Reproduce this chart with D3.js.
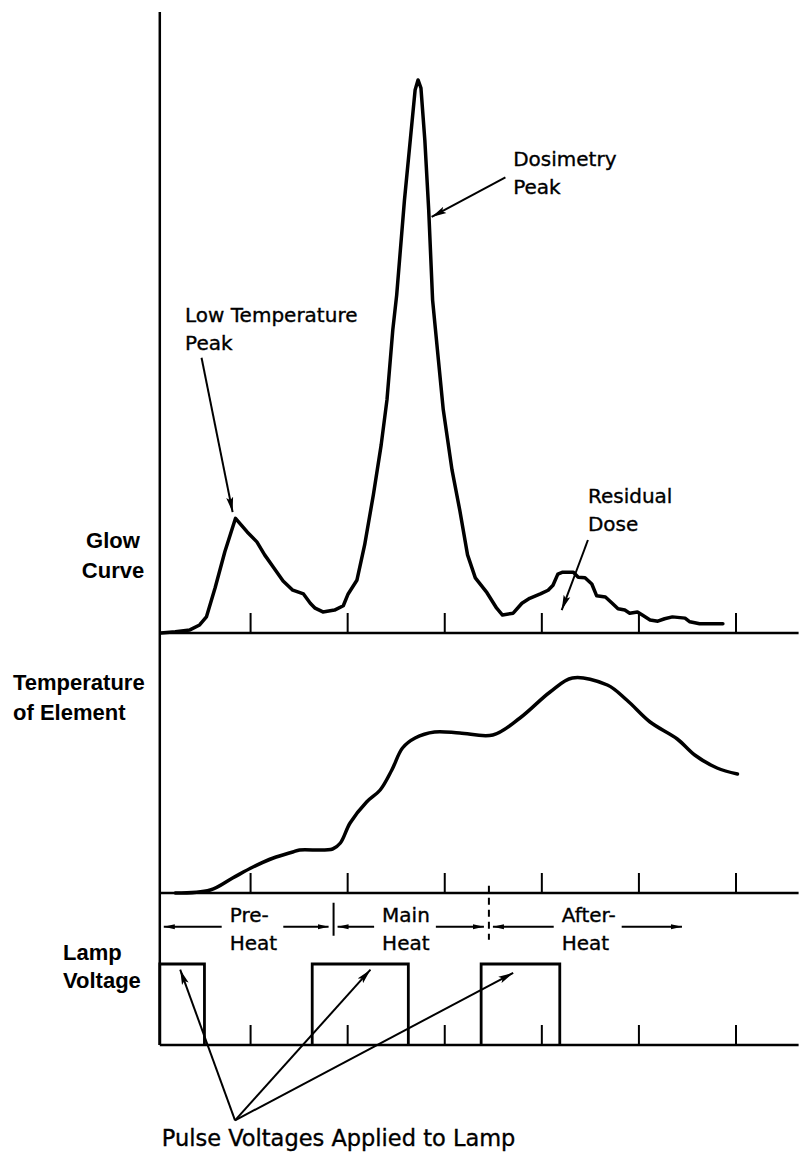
<!DOCTYPE html>
<html>
<head>
<meta charset="utf-8">
<script src="https://cdn.jsdelivr.net/npm/d3@7"></script>
<style>
    body { margin: 0; background: #fff; }
    svg { display: block; background: #fff; }
    .label { font-family: "Liberation Sans", Arial, sans-serif; font-weight: bold; font-size: 22px; fill: #000; }
    .note { font-family: "DejaVu Sans", sans-serif; font-size: 20px; fill: #000; stroke: #000; stroke-width: 0.35px; }
</style>
</head>
<body>
<svg id="svg-main" width="799" height="1154"></svg>
<script>
// time runs in tick units, ticks at 1..6
var tickTimes = [1, 2, 3, 4, 5, 6];
var axisStart = 0.07;
var axisEnd = 6.65;

// glow curve, relative light output (0-100)
var glowTime = [0.08, 0.23, 0.38, 0.48, 0.55, 0.64, 0.74, 0.85, 0.97, 1.07, 1.15, 1.24, 1.34, 1.44, 1.55,
    1.62, 1.67, 1.75, 1.87, 1.96, 2.01, 2.10, 2.18, 2.27, 2.35, 2.41, 2.47, 2.51, 2.59, 2.65, 2.70, 2.73,
    2.76, 2.80, 2.84, 2.88, 2.94, 2.99, 3.08, 3.16, 3.24, 3.32, 3.44, 3.54, 3.60, 3.71, 3.80, 3.88, 3.99,
    4.07, 4.12, 4.17, 4.22, 4.33, 4.38, 4.45, 4.52, 4.57, 4.66, 4.73, 4.79, 4.86, 4.91, 4.99, 5.04, 5.12,
    5.20, 5.27, 5.35, 5.48, 5.53, 5.63, 5.87];
var glowValue = [0, 0.2, 0.5, 1.3, 2.6, 7.3, 13.1, 18.5, 16.3, 14.7, 12.6, 10.6, 8.4, 6.9, 6.3,
    4.8, 4.0, 3.4, 3.7, 4.4, 6.3, 8.5, 14.2, 22.3, 30.3, 37.6, 48.9, 54.5, 69.8, 79.5, 87.6, 89.2,
    87.9, 79.5, 68.2, 53.7, 44.0, 36.0, 26.3, 19.8, 12.6, 8.9, 6.5, 4.0, 2.9, 3.2, 4.8, 5.6, 6.3,
    6.9, 7.7, 9.5, 9.8, 9.8, 9.0, 8.9, 7.9, 6.0, 5.8, 4.8, 3.9, 3.7, 3.2, 3.4, 2.9, 2.1,
    1.9, 2.3, 2.6, 2.4, 1.8, 1.5, 1.5];

// element temperature (0-100)
var tempTime = [0.23, 0.59, 0.82, 1.03, 1.24, 1.44, 1.51, 1.85, 1.93, 2.03, 2.20, 2.34, 2.46, 2.57,
    2.70, 2.90, 3.16, 3.50, 3.78, 4.09, 4.32, 4.68, 4.88, 5.12, 5.40, 5.58, 5.81, 6.02];
var tempValue = [0, 1.2, 6.0, 10.4, 14.0, 16.4, 17.2, 17.6, 20.0, 28.0, 36.4, 41.2, 49.2, 58.0,
    62.0, 64.4, 64.0, 63.2, 70.0, 80.4, 86.0, 83.2, 77.2, 68.4, 61.6, 55.2, 50.0, 47.6];

// lamp pulses (on = 1)
var pulseStart = [0.07, 1.64, 3.38];
var pulseEnd = [0.53, 2.63, 4.19];

var phaseNames = [["Pre-", "Heat"], ["Main", "Heat"], ["After-", "Heat"]];
var phaseStart = [0.07, 1.86, 3.46];
var phaseEnd = [1.86, 3.46, 5.50];
var phaseLabelTime = [0.79, 2.36, 4.21];

var noteText = [["Low Temperature", "Peak"], ["Dosimetry", "Peak"], ["Residual", "Dose"]];
var noteTime = [0.33, 3.71, 4.48];
var noteValue = [50.2, 75.3, 21.0];
var noteArrowFrom = [[0.50, 44.4], [3.63, 73.5], [4.48, 15.0]];
var noteArrowTo = [[0.82, 19.5], [2.87, 67.1], [4.21, 3.7]];

var pulseNote = "Pulse Voltages Applied to Lamp";
var pulseArrowFrom = [0.845, -0.93];
var pulseArrowTo = [[0.28, 0.93], [2.24, 0.93], [3.71, 0.89]];

var svg = d3.select("#svg-main");

var x = d3.scaleLinear().domain([0, 6]).range([153, 735.5]);
var glowY = d3.scaleLinear().domain([0, 100]).range([633, 13]);
var tempY = d3.scaleLinear().domain([0, 100]).range([893, 643]);
var lampY = d3.scaleLinear().domain([0, 1]).range([1045, 964]);

var defs = svg.append("defs");
defs.append("marker")
    .attr("id", "head")
    .attr("markerUnits", "userSpaceOnUse")
    .attr("markerWidth", 16).attr("markerHeight", 8)
    .attr("refX", 15).attr("refY", 4)
    .attr("orient", "auto")
    .append("path").attr("d", "M0,0.5 L15,4 L0,7.5 L3,4 z").attr("fill", "#000");
defs.append("marker")
    .attr("id", "small")
    .attr("markerUnits", "userSpaceOnUse")
    .attr("markerWidth", 12).attr("markerHeight", 6)
    .attr("refX", 11).attr("refY", 3)
    .attr("orient", "auto")
    .append("path").attr("d", "M0,0.5 L11,3 L0,5.5 z").attr("fill", "#000");

// frame: left axis and the three baselines
svg.append("line")
    .attr("x1", x(axisStart)).attr("x2", x(axisStart))
    .attr("y1", glowY(100) - 1).attr("y2", lampY(0))
    .attr("stroke", "#000").attr("stroke-width", 2.5);

[glowY, tempY, lampY].forEach(function (y) {
    svg.append("line")
        .attr("x1", x(axisStart)).attr("x2", x(axisEnd))
        .attr("y1", y(0)).attr("y2", y(0))
        .attr("stroke", "#000").attr("stroke-width", 2.5);

    var axis = svg.append("g")
        .attr("transform", "translate(0," + y(0) + ")")
        .call(d3.axisTop(x).tickValues(tickTimes).tickSize(20).tickFormat(""));
    axis.select(".domain").remove();
    axis.selectAll(".tick line").attr("stroke", "#000").attr("stroke-width", 2);
});

// glow curve
var glowLine = d3.line()
    .x(function (d, i) { return x(glowTime[i]); })
    .y(function (d, i) { return glowY(glowValue[i]); });
svg.append("path")
    .attr("d", glowLine(glowTime))
    .attr("fill", "none").attr("stroke", "#000")
    .attr("stroke-width", 3.5).attr("stroke-linejoin", "round").attr("stroke-linecap", "round");

// temperature curve
var tempLine = d3.line()
    .x(function (d, i) { return x(tempTime[i]); })
    .y(function (d, i) { return tempY(tempValue[i]); })
    .curve(d3.curveCatmullRom);
svg.append("path")
    .attr("d", tempLine(tempTime))
    .attr("fill", "none").attr("stroke", "#000")
    .attr("stroke-width", 3.5).attr("stroke-linecap", "round");

// lamp pulses
var pulseLine = d3.line()
    .x(function (d) { return x(d[0]); })
    .y(function (d) { return lampY(d[1]); });
pulseStart.forEach(function (s, i) {
    svg.append("path")
        .attr("d", pulseLine([[s, 0], [s, 1], [pulseEnd[i], 1], [pulseEnd[i], 0]]))
        .attr("fill", "none").attr("stroke", "#000")
        .attr("stroke-width", 2.8).attr("stroke-linejoin", "miter");
});

// heating phases row
var rowY = lampY(1.46);
phaseNames.forEach(function (name, i) {
    var lx = x(phaseLabelTime[i]);
    var t = svg.append("text").attr("class", "note").attr("x", lx);
    t.append("tspan").attr("x", lx).attr("y", rowY - 5).text(name[0]);
    t.append("tspan").attr("x", lx).attr("y", rowY + 23).text(name[1]);
    var w = t.node().getBBox().width;

    svg.append("line")
        .attr("x1", lx - 8).attr("x2", x(phaseStart[i]) + 4)
        .attr("y1", rowY).attr("y2", rowY)
        .attr("stroke", "#000").attr("stroke-width", 2)
        .attr("marker-end", "url(#small)");
    svg.append("line")
        .attr("x1", lx + w + 6).attr("x2", x(phaseEnd[i]) - 5)
        .attr("y1", rowY).attr("y2", rowY)
        .attr("stroke", "#000").attr("stroke-width", 2)
        .attr("marker-end", "url(#small)");
});

svg.append("line")
    .attr("x1", x(phaseEnd[0])).attr("x2", x(phaseEnd[0]))
    .attr("y1", rowY - 24).attr("y2", rowY + 9)
    .attr("stroke", "#000").attr("stroke-width", 2);
svg.append("line")
    .attr("x1", x(phaseEnd[1])).attr("x2", x(phaseEnd[1]))
    .attr("y1", rowY - 41).attr("y2", rowY + 13)
    .attr("stroke", "#000").attr("stroke-width", 2)
    .attr("stroke-dasharray", "7,5");

// annotations on the glow curve
noteText.forEach(function (lines, i) {
    var t = svg.append("text").attr("class", "note");
    lines.forEach(function (s, j) {
        t.append("tspan")
            .attr("x", x(noteTime[i]))
            .attr("y", glowY(noteValue[i]) + j * 28)
            .text(s);
    });
    svg.append("line")
        .attr("x1", x(noteArrowFrom[i][0])).attr("y1", glowY(noteArrowFrom[i][1]))
        .attr("x2", x(noteArrowTo[i][0])).attr("y2", glowY(noteArrowTo[i][1]))
        .attr("stroke", "#000").attr("stroke-width", 2)
        .attr("marker-end", "url(#head)");
});

// pulse arrows
pulseArrowTo.forEach(function (p) {
    svg.append("line")
        .attr("x1", x(pulseArrowFrom[0])).attr("y1", lampY(pulseArrowFrom[1]))
        .attr("x2", x(p[0])).attr("y2", lampY(p[1]))
        .attr("stroke", "#000").attr("stroke-width", 2)
        .attr("marker-end", "url(#head)");
});
svg.append("text").attr("class", "note")
    .attr("x", x(0.09)).attr("y", lampY(-1.25))
    .style("font-size", "22.5px")
    .text(pulseNote);

// panel labels
var g1 = svg.append("text").attr("class", "label").attr("text-anchor", "middle");
g1.append("tspan").attr("x", 113).attr("y", glowY(13.7)).text("Glow");
g1.append("tspan").attr("x", 113).attr("y", glowY(13.7) + 30).text("Curve");

var g2 = svg.append("text").attr("class", "label");
g2.append("tspan").attr("x", 13).attr("y", tempY(81.2)).text("Temperature");
g2.append("tspan").attr("x", 13).attr("y", tempY(81.2) + 30).text("of Element");

var g3 = svg.append("text").attr("class", "label");
g3.append("tspan").attr("x", 63).attr("y", lampY(1.05)).text("Lamp");
g3.append("tspan").attr("x", 63).attr("y", lampY(1.05) + 28).text("Voltage");
</script>
</body>
</html>
